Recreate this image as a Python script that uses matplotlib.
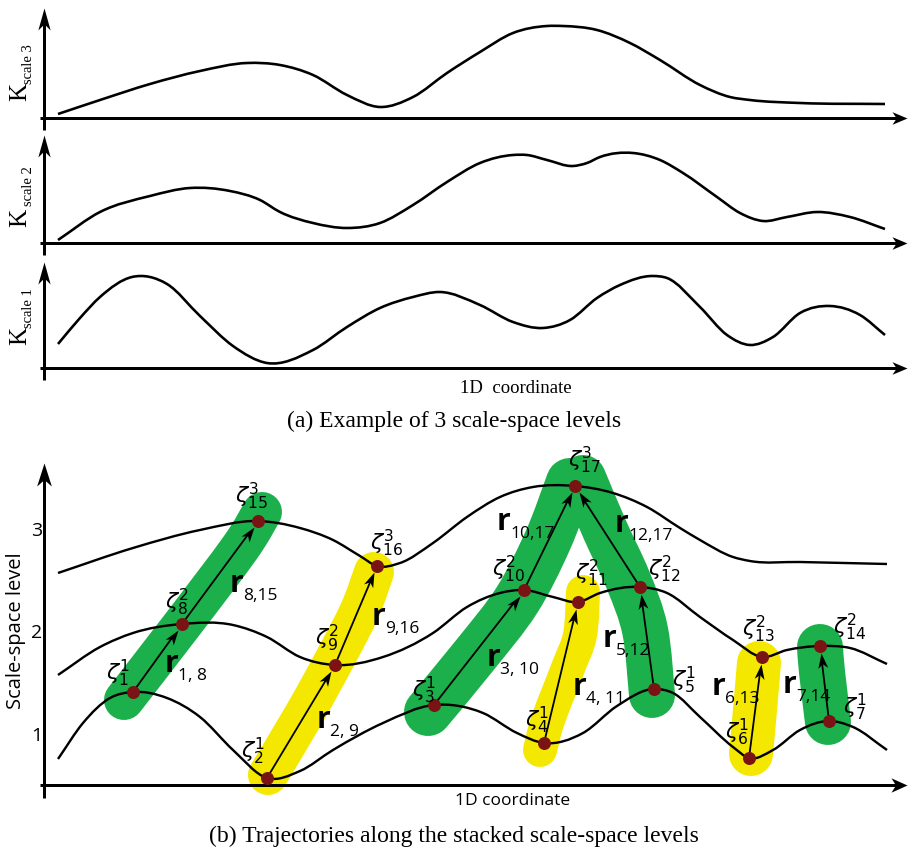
import numpy as np
import matplotlib.pyplot as plt
from matplotlib.path import Path
from matplotlib.patches import PathPatch
from matplotlib.markers import MarkerStyle
from matplotlib.transforms import Affine2D

W, H = 908, 857

# ---------------- (a) response at each scale (knots of the curves) ----------------
k3_x = [58, 100, 150, 200, 247, 280, 313, 347, 380, 413, 447, 480, 513, 547, 563, 597, 630, 660, 700, 730, 750, 800, 885]
k3_y = [114, 100, 84, 71, 63, 65, 75, 95, 107, 97, 73, 52, 33, 26, 26, 30, 43, 60, 85, 97, 100, 103, 104]

k2_x = [58, 100, 150, 190, 230, 260, 280, 313, 347, 380, 413, 447, 480, 513, 527, 547, 573, 587, 600, 633, 660, 683, 717, 740, 763, 787, 817, 850, 885]
k2_y = [240, 212, 196, 188, 191, 200, 212, 223, 228, 223, 205, 182, 163, 155, 155, 160, 166, 163, 157, 153, 160, 173, 197, 213, 221, 217, 212, 217, 229]

k1_x = [58, 80, 100, 132, 167, 200, 233, 267, 313, 347, 380, 413, 440, 480, 513, 543, 570, 597, 620, 653, 667, 700, 727, 750, 773, 800, 830, 860, 885]
k1_y = [344, 318, 297, 277, 284, 316, 346, 363, 350, 327, 308, 297, 292, 305, 322, 328, 320, 298, 285, 276, 278, 307, 335, 345, 337, 313, 306, 315, 335]

# ---------------- (b) stacked levels ----------------
lv3_x = [58, 133, 200, 258, 300, 333, 360, 377, 400, 433, 467, 500, 533, 575, 613, 647, 680, 700, 733, 750, 800, 887]
lv3_y = [573, 548, 530, 521, 528, 540, 556, 566, 563, 543, 517, 497, 487, 486, 493, 507, 528, 540, 557, 561, 562, 564]

lv2_x = [58, 100, 133, 182, 233, 267, 300, 335, 383, 433, 467, 500, 524, 553, 578, 600, 640, 667, 700, 733, 762, 787, 820, 850, 887]
lv2_y = [675, 647, 633, 624, 625, 637, 657, 665, 657, 633, 607, 593, 590, 597, 602, 593, 587, 593, 617, 640, 657, 650, 646, 648, 664]

lv1_x = [58, 83, 110, 133, 167, 200, 233, 267, 300, 333, 383, 434, 483, 517, 544, 583, 617, 654, 673, 700, 733, 749, 773, 800, 829, 853, 887]
lv1_y = [759, 723, 698, 692, 698, 717, 750, 778, 771, 750, 723, 705, 713, 733, 743, 733, 706, 689, 693, 717, 747, 758, 750, 730, 721, 727, 750]

# extrema zeta_1 .. zeta_17
zeta_x = [133, 267, 434, 544, 654, 749, 829, 182, 335, 524, 578, 640, 762, 820, 258, 377, 575]
zeta_y = [692, 778, 705, 743, 689, 758, 721, 624, 665, 590, 602, 587, 657, 646, 521, 566, 486]
zeta_level = [1, 1, 1, 1, 1, 1, 1, 2, 2, 2, 2, 2, 2, 2, 3, 3, 3]
# label anchor: left edge, vertical centre
zlab_x = [106, 241, 412, 525, 672, 725, 843, 165, 315, 492, 575, 648, 742, 833, 235, 370, 568]
zlab_y = [673, 751, 690, 720, 680, 732, 707, 602, 638, 569, 573, 569, 629, 627, 496, 543, 460]

# links between extrema of consecutive levels
links = [(1, 8), (8, 15), (2, 9), (9, 16), (3, 10), (10, 17), (4, 11), (5, 12), (12, 17), (6, 13), (7, 14)]
link_sub = ["1, 8", "8,15", "2, 9", "9,16", "3, 10", "10,17", "4, 11", "5,12", "12,17", "6,13", "7,14"]
rlab_x = [165, 230, 317, 372, 487, 497, 573, 603, 615, 712, 783]
rlab_y = [672, 592, 728, 625, 666, 530, 695, 647, 532, 695, 693]

# highlighted trajectories (brush strokes)
GREEN, YELLOW = "#1bb04b", "#f4e800"
strokes = [
    (GREEN, [124, 182, 240, 262], [700, 625, 548, 512], 40),
    (YELLOW, [268, 305, 337, 360, 374], [775, 713, 655, 610, 572], 40),
    (GREEN, [428, 475, 517, 548, 570], [712, 655, 600, 540, 482], 48),
    (GREEN, [583, 605, 628, 645, 652], [478, 530, 580, 630, 695], 46),
    (YELLOW, [540, 548, 568, 580, 583], [750, 720, 668, 635, 592], 34),
    (YELLOW, [751, 755, 759], [754, 710, 663], 44),
    (GREEN, [828, 822, 820], [722, 672, 647], 46),
]

SERIF = "Liberation Serif"
SANS = "Open Sans"
PT = 0.72  # points per pixel at dpi 100


def curve(xs, ys):
    # cubic Hermite through knots of y(x), as bezier segments
    x = np.asarray(xs, float)
    y = np.asarray(ys, float)
    h = np.diff(x)
    d = np.diff(y) / h
    m = np.empty_like(y)
    m[0], m[-1] = d[0], d[-1]
    m[1:-1] = (d[:-1] * h[1:] + d[1:] * h[:-1]) / (h[:-1] + h[1:])
    verts, codes = [(x[0], y[0])], [Path.MOVETO]
    for i in range(len(x) - 1):
        t = h[i] / 3
        verts += [(x[i] + t, y[i] + m[i] * t),
                  (x[i + 1] - t, y[i + 1] - m[i + 1] * t),
                  (x[i + 1], y[i + 1])]
        codes += [Path.CURVE4] * 3
    return Path(verts, codes)


def stroke(xs, ys):
    # Catmull-Rom through the knots (for paths that are not functions of x)
    p = np.column_stack([xs, ys]).astype(float)
    q = np.vstack([p[0], p, p[-1]])
    verts, codes = [p[0]], [Path.MOVETO]
    for i in range(1, len(q) - 2):
        verts += [q[i] + (q[i + 1] - q[i - 1]) / 6,
                  q[i + 1] - (q[i + 2] - q[i]) / 6, q[i + 1]]
        codes += [Path.CURVE4] * 3
    return Path(verts, codes)


def head(angle, w=0.3, notch=0.72):
    verts = [(0, 0), (-1, w), (-notch, 0), (-1, -w), (0, 0)]
    codes = [Path.MOVETO, Path.LINETO, Path.LINETO, Path.LINETO, Path.CLOSEPOLY]
    return MarkerStyle(Path(verts, codes), transform=Affine2D().rotate_deg(angle))


def arrow(ax, x0, y0, x1, y1, lw, hl, w, shrink=0.0, z=3):
    u = np.array([x1 - x0, y1 - y0], float)
    u /= np.hypot(*u)
    tip = np.array([x1, y1]) - u * shrink
    stop = tip - u * hl * 0.6
    ang = np.degrees(np.arctan2(-u[1], u[0]))
    ax.plot([x0, stop[0]], [y0, stop[1]], color="black", lw=lw * PT,
            solid_capstyle="butt", zorder=z)
    ax.plot([tip[0]], [tip[1]], linestyle="none", marker=head(ang, w),
            ms=2 * hl * PT, color="black", mew=0, zorder=z)


fig = plt.figure(figsize=(W / 100, H / 100), dpi=100)
ax = fig.add_axes([0, 0, 1, 1])
ax.set_xlim(0, W)
ax.set_ylim(H, 0)
ax.axis("off")

# ---- panel (a) ----
panels = [(118, 8, k3_x, k3_y, "3", 92, 64),
          (243, 135, k2_x, k2_y, "2", 218, 186),
          (368, 262, k1_x, k1_y, "1", 336, 308)]
for ya, tip, cx, cy, name, ky, sy in panels:
    arrow(ax, 44, ya + 12, 44, tip, 3, 22, 0.28)
    arrow(ax, 40, ya, 907, ya, 3, 15, 0.42)
    ax.add_patch(PathPatch(curve(cx, cy), fill=False, lw=2.6 * PT,
                           edgecolor="black", capstyle="butt", zorder=2))
    ax.text(20, ky, "K", family=SERIF, fontsize=18, rotation=90,
            ha="center", va="center")
    ax.text(28, sy, "scale " + name, family=SERIF, fontsize=10.5, rotation=90,
            ha="center", va="center")

ax.text(516, 388, "1D  coordinate", family=SERIF, fontsize=13.5,
        ha="center", va="center")
ax.text(454, 421, "(a) Example of 3 scale-space levels", family=SERIF,
        fontsize=17, ha="center", va="center")

# ---- panel (b) ----
for color, sx, sy, width in strokes:
    ax.add_patch(PathPatch(stroke(sx, sy), fill=False, lw=width * PT,
                           edgecolor=color, capstyle="round",
                           joinstyle="round", zorder=1))

for cx, cy in [(lv3_x, lv3_y), (lv2_x, lv2_y), (lv1_x, lv1_y)]:
    ax.add_patch(PathPatch(curve(cx, cy), fill=False, lw=2.4 * PT,
                           edgecolor="black", capstyle="butt", zorder=2))

arrow(ax, 44, 798, 44, 463, 3, 23, 0.32)
arrow(ax, 40, 785, 907, 785, 3, 16, 0.45)

for a, b in links:
    arrow(ax, zeta_x[a - 1], zeta_y[a - 1], zeta_x[b - 1], zeta_y[b - 1],
          1.8, 15, 0.33, shrink=7)

ax.plot(zeta_x, zeta_y, "o", ms=13 * PT, color="#7a1414", mew=0, zorder=4)

for i, (lx, ly, lev) in enumerate(zip(zlab_x, zlab_y, zeta_level)):
    ax.text(lx, ly, r"$\zeta^{%d}_{%d}$" % (lev, i + 1), ha="left", va="center",
            fontsize=16, math_fontfamily="dejavusans", zorder=5)

for sub, lx, ly in zip(link_sub, rlab_x, rlab_y):
    ax.text(lx, ly, "r", family=SANS, weight="bold", fontsize=22,
            ha="left", va="baseline", zorder=5)
    ax.text(lx + 13, ly + 8, sub, family=SANS, fontsize=12.5,
            ha="left", va="baseline", zorder=5)

for lev, ty in zip(["1", "2", "3"], [736, 633, 531]):
    ax.text(37, ty, lev, family=SANS, fontsize=14, ha="center", va="center")
ax.text(16, 631, "Scale-space level", family=SANS, fontsize=14.5,
        rotation=90, ha="center", va="center")
ax.text(513, 801, "1D coordinate", family=SANS, fontsize=12.5,
        ha="center", va="center")
ax.text(454, 836, "(b) Trajectories along the stacked scale-space levels",
        family=SERIF, fontsize=17, ha="center", va="center")

fig.savefig("out.png", dpi=100)
